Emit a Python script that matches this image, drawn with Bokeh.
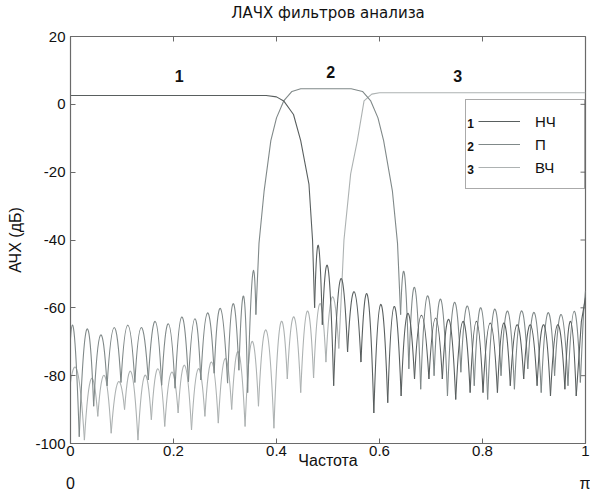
import numpy as np
from bokeh.plotting import figure
from bokeh.models import (Range1d, LinearAxis, FixedTicker, Legend, LegendItem,
                          NumeralTickFormatter, ColumnDataSource)
from bokeh.core.properties import value
from bokeh.embed import file_html
from bokeh.resources import INLINE

# ---------------- data ----------------
title_text = "ЛАЧХ фильтров анализа"
x_ticks = [0, 0.2, 0.4, 0.6, 0.8, 1.0]
y_ticks = [-100, -80, -60, -40, -20, 0, 20]
x_end_ticks = [0, 1.0]
x_end_labels = {0: "0", 1: "π"}

# 1 - lowpass (НЧ): passband + transition
lp_f = [0.0, 0.38, 0.40, 0.414, 0.433, 0.447, 0.463, 0.470, 0.474]
lp_db = [2.6, 2.6, 2.2, 1.0, -3.0, -10.7, -23.5, -40.0, -60.0]
# lowpass stopband: nulls and lobe peaks
lp_null_f = [0.474, 0.489, 0.511, 0.538, 0.564, 0.589, 0.616, 0.642, 0.668, 0.696,
             0.722, 0.748, 0.776, 0.801, 0.829, 0.854, 0.880, 0.906, 0.932, 0.960, 0.982]
lp_null_db = [-60, -65, -83, -73, -76, -91, -88, -86, -81, -81,
              -81, -87, -85, -85, -85, -83, -81, -83, -86, -84, -86]
lp_peak_f = [0.481, 0.500, 0.524, 0.551, 0.577, 0.602, 0.628, 0.654, 0.681, 0.709,
             0.735, 0.762, 0.788, 0.815, 0.841, 0.867, 0.893, 0.919, 0.946, 0.971]
lp_peak_db = [-41.6, -48.2, -51.6, -55.3, -56.3, -59.0, -59.6, -61.7, -62.2, -63.0,
              -63.5, -64.0, -64.0, -64.5, -64.5, -65.0, -65.0, -65.0, -65.0, -64.0]
lp_tail_f = [0.982, 0.992, 1.0]
lp_tail_db = [-86, -64, -57]

# 2 - bandpass (П): transitions + passband
bp_f = [0.360, 0.366, 0.376, 0.389, 0.400, 0.414, 0.430, 0.447,
        0.545, 0.567, 0.583, 0.597, 0.608, 0.625, 0.635, 0.641]
bp_db = [-62, -41, -25.5, -10.7, -4.0, 1.0, 3.8, 4.6,
         4.6, 3.8, 1.0, -4.0, -10.7, -25.5, -41, -62]
# bandpass lower stopband
bpl_null_f = [0.0, 0.017, 0.045, 0.071, 0.098, 0.125, 0.151, 0.177, 0.203,
              0.229, 0.253, 0.279, 0.305, 0.327, 0.344, 0.360]
bpl_null_db = [-69, -98, -89, -83, -82, -82, -81.3, -82.8, -83.7,
               -81.8, -81.3, -79.3, -82.2, -78.4, -85, -62]
bpl_peak_f = [0.007, 0.032, 0.058, 0.085, 0.111, 0.137, 0.165, 0.190,
              0.216, 0.242, 0.266, 0.290, 0.315, 0.337, 0.355]
bpl_peak_db = [-68.6, -66.4, -68.1, -65.8, -65.1, -65.8, -64.0, -64.7,
               -62.7, -63.2, -61.5, -60.2, -58.8, -56.6, -50.4]
# bandpass upper stopband
bpu_null_f = [0.641, 0.657, 0.680, 0.706, 0.732, 0.758, 0.784, 0.810,
              0.836, 0.862, 0.888, 0.914, 0.940, 0.966, 0.990]
bpu_null_db = [-62, -78, -84, -80, -86, -79, -83, -87,
               -80, -84, -78, -85, -80, -83, -82]
bpu_peak_f = [0.648, 0.668, 0.693, 0.719, 0.745, 0.771, 0.797,
              0.823, 0.849, 0.875, 0.901, 0.927, 0.953, 0.978]
bpu_peak_db = [-50, -54, -56.5, -57.5, -58.5, -59.5, -60,
               -60.5, -61, -61, -61.5, -61.5, -62, -61]
bp_tail_f = [0.990, 0.996, 1.0]
bp_tail_db = [-82, -62, -55]

# 3 - highpass (ВЧ): transition + passband
hp_f = [0.521, 0.531, 0.544, 0.557, 0.570, 0.585, 0.600, 1.0]
hp_db = [-72, -40, -20.5, -10.7, 1.0, 3.0, 3.4, 3.4]
# highpass stopband
hp_null_f = [0.0, 0.027, 0.053, 0.079, 0.105, 0.131, 0.157, 0.183, 0.209, 0.235,
             0.261, 0.287, 0.313, 0.339, 0.365, 0.395, 0.421, 0.447, 0.472, 0.496, 0.521]
hp_null_db = [-82, -99, -92, -97, -90, -99, -93, -95, -91, -96,
              -92, -94, -90, -95, -89, -95.5, -81, -85, -80.7, -76, -72]
hp_peak_f = [0.014, 0.040, 0.066, 0.092, 0.118, 0.144, 0.170, 0.196, 0.222, 0.248,
             0.274, 0.300, 0.326, 0.352, 0.380, 0.408, 0.434, 0.460, 0.484, 0.508]
hp_peak_db = [-79, -81, -80, -82, -79, -80, -78, -79, -77, -78,
              -76, -75, -73, -70, -66.6, -64.5, -62.7, -61, -58.8, -56.8]

curve_names = ["1", "2", "3"]
curve_name_f = [0.211, 0.505, 0.752]
curve_name_db = [8.4, 9.4, 8.4]
legend_labels = ["НЧ", "П", "ВЧ"]
legend_num_f = [0.777, 0.777, 0.777]
legend_num_db = [-5.6, -12.4, -19.2]

# ---------------- styles ----------------
FONT = "Liberation Sans"
C_LP = "#595f5f"
C_BP = "#808989"
C_HP = "#adb2b2"
C_AX = "#6a6a6a"
LW = 1.1
X0, X1, Y0, Y1 = 0.0, 1.0, -100.0, 20.0
FRAME_W, FRAME_H = 515.0, 408.0
TICK_PX = 5.0

p = figure(width=590, height=494, output_backend="svg", toolbar_location=None,
           x_range=Range1d(X0, X1), y_range=Range1d(Y0, Y1),
           min_border_left=70, min_border_right=5, min_border_top=36,
           min_border_bottom=50, background_fill_color="white",
           border_fill_color="white")
p.grid.visible = False
p.outline_line_color = C_AX
p.outline_line_width = 1.2

xa = p.below[0]
ya = p.left[0]


def style_axis(ax):
    ax.axis_line_color = C_AX
    ax.major_tick_line_color = C_AX
    ax.major_tick_in = int(TICK_PX)
    ax.major_tick_out = 0
    ax.minor_tick_line_color = None
    ax.major_label_text_font = FONT
    ax.major_label_text_color = "#111111"
    ax.axis_label_text_font = FONT
    ax.axis_label_text_font_style = "normal"
    ax.axis_label_text_color = "#111111"


xa.ticker = FixedTicker(ticks=x_ticks)
xa.formatter = NumeralTickFormatter(format="0.[0]")
style_axis(xa)
xa.major_label_text_font_size = "15px"
xa.major_label_standoff = 2
xa.axis_label = "Частота"
xa.axis_label_text_font_size = "16px"
xa.axis_label_standoff = -7

ya.ticker = FixedTicker(ticks=y_ticks)
ya.formatter = NumeralTickFormatter(format="0")
style_axis(ya)
ya.major_label_text_font_size = "15px"
ya.major_label_standoff = 5
ya.axis_label = "АЧХ (дБ)"
ya.axis_label_text_font_size = "16px"
ya.axis_label_standoff = 8

# second row under the axis: 0 ... π
xb = LinearAxis(ticker=FixedTicker(ticks=x_end_ticks))
xb.major_label_overrides = x_end_labels
xb.axis_line_color = None
xb.major_tick_line_color = None
xb.minor_tick_line_color = None
xb.major_label_standoff = -3
xb.major_label_text_font = FONT
xb.major_label_text_font_size = "16px"
xb.major_label_text_color = "#111111"
p.add_layout(xb, "below")

# title, carried by a tick-less axis above the box
tax = LinearAxis(ticker=FixedTicker(ticks=[]))
tax.axis_line_color = None
tax.major_tick_line_color = None
tax.minor_tick_line_color = None
tax.axis_label = title_text
tax.axis_label_text_font = "DejaVu Sans"
tax.axis_label_text_font_size = "15px"
tax.axis_label_text_font_style = "normal"
tax.axis_label_text_color = "#111111"
tax.axis_label_standoff = 15
p.add_layout(tax, "above")

# inward tick marks on the top and right edges of the box
dy = TICK_PX * (Y1 - Y0) / FRAME_H
dx = TICK_PX * (X1 - X0) / FRAME_W
p.segment(x0=x_ticks, y0=[Y1] * len(x_ticks), x1=x_ticks,
          y1=[Y1 - dy] * len(x_ticks), line_color=C_AX, line_width=1)
p.segment(x0=[X1] * len(y_ticks), y0=y_ticks, x1=[X1 - dx] * len(y_ticks),
          y1=y_ticks, line_color=C_AX, line_width=1)


def draw_lobes(null_f, null_db, peak_f, peak_db, color):
    nf = np.array(null_f, dtype=float)
    nd = np.array(null_db, dtype=float)
    pk = np.array(peak_db, dtype=float)
    src = ColumnDataSource(dict(
        x0=nf[:-1], y0=nd[:-1], x1=nf[1:], y1=nd[1:],
        cx=np.array(peak_f, dtype=float),
        cy=2 * pk - (nd[:-1] + nd[1:]) / 2))
    p.quadratic(x0="x0", y0="y0", x1="x1", y1="y1", cx="cx", cy="cy",
                source=src, line_color=color, line_width=LW)


# highpass (light) first, lowpass (dark) on top
draw_lobes(hp_null_f, hp_null_db, hp_peak_f, hp_peak_db, C_HP)
r_hp = p.line(hp_f, hp_db, line_color=C_HP, line_width=LW)

draw_lobes(bpl_null_f, bpl_null_db, bpl_peak_f, bpl_peak_db, C_BP)
draw_lobes(bpu_null_f, bpu_null_db, bpu_peak_f, bpu_peak_db, C_BP)
r_bp = p.line(bp_f, bp_db, line_color=C_BP, line_width=LW)
p.line(bp_tail_f, bp_tail_db, line_color=C_BP, line_width=LW)

draw_lobes(lp_null_f, lp_null_db, lp_peak_f, lp_peak_db, C_LP)
r_lp = p.line(lp_f, lp_db, line_color=C_LP, line_width=LW)
p.line(lp_tail_f, lp_tail_db, line_color=C_LP, line_width=LW)

p.text(x=curve_name_f, y=curve_name_db, text=curve_names,
       text_font=value(FONT), text_font_size="16px", text_font_style="bold",
       text_align="center", text_baseline="middle", text_color="#111111")

legend = Legend(items=[LegendItem(label=legend_labels[0], renderers=[r_lp]),
                       LegendItem(label=legend_labels[1], renderers=[r_bp]),
                       LegendItem(label=legend_labels[2], renderers=[r_hp])],
                location=(395, 254), glyph_width=42, glyph_height=18,
                label_height=18, label_width=37, label_standoff=15,
                padding=12, spacing=5, margin=0,
                label_text_font=FONT, label_text_font_size="15px",
                label_text_color="#111111",
                border_line_color="#555555", border_line_width=1,
                background_fill_alpha=0)
p.add_layout(legend)

# legend numbers (legend box is transparent, no curve passes under it)
p.text(x=legend_num_f, y=legend_num_db, text=curve_names,
       text_font=value(FONT), text_font_size="12px", text_font_style="bold",
       text_align="center", text_baseline="middle", text_color="#111111")

open("out.html", "w").write(file_html(p, INLINE))
